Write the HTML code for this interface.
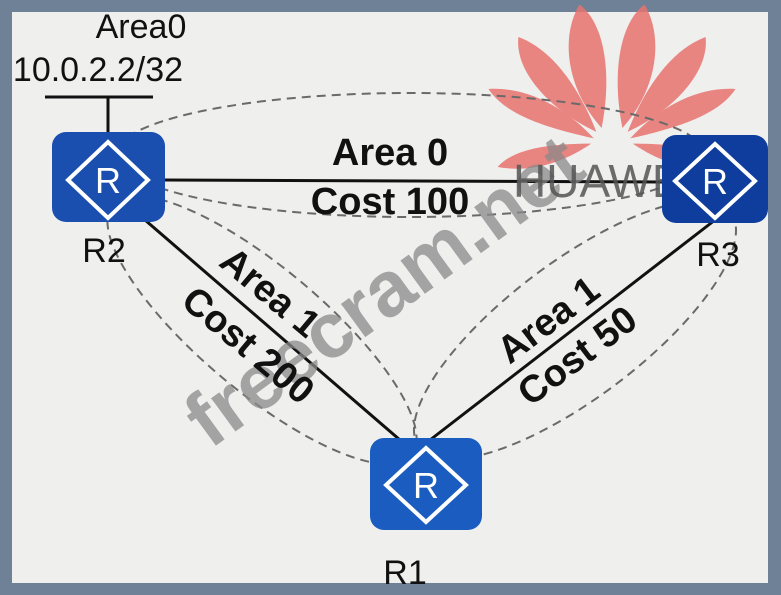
<!DOCTYPE html>
<html><head><meta charset="utf-8"><style>
html,body{margin:0;padding:0;}
body{width:781px;height:595px;background:#6e8196;position:relative;overflow:hidden;font-family:"Liberation Sans",sans-serif;}
</style></head><body>
<svg width="781" height="595" xmlns="http://www.w3.org/2000/svg" style="position:absolute;left:0;top:0">
<rect x="12" y="12" width="756" height="571" fill="#efefee"/>
<!-- Huawei logo -->
<g fill="#e8736f" opacity="0.85" transform="translate(612,128) scale(1.3)">
<path d="M-8,0 C-35,-30 -40,-70 -25,-95 C-5,-80 0,-40 -8,0Z"/>
<path d="M8,0 C35,-30 40,-70 25,-95 C5,-80 0,-40 8,0Z"/>
<path d="M-12,3 C-50,-15 -75,-45 -72,-70 C-45,-60 -25,-30 -12,3Z"/>
<path d="M12,3 C50,-15 75,-45 72,-70 C45,-60 25,-30 12,3Z"/>
<path d="M-14,8 C-50,0 -82,-10 -95,-30 C-65,-32 -35,-15 -14,8Z"/>
<path d="M14,8 C50,0 82,-10 95,-30 C65,-32 35,-15 14,8Z"/>
<path d="M-16,12 C-45,12 -75,15 -88,30 C-60,35 -35,25 -16,12Z"/>
<path d="M16,12 C45,12 75,15 88,30 C60,35 35,25 16,12Z"/>
</g>
<!-- dashed ellipses -->
<g fill="none" stroke="#6a6a6a" stroke-width="2" stroke-dasharray="9,6">
<ellipse cx="410" cy="155" rx="295" ry="62"/>
<ellipse cx="262" cy="330" rx="195" ry="62" transform="rotate(40 262 330)"/>
<ellipse cx="575" cy="330" rx="195" ry="68" transform="rotate(-37 575 330)"/>
</g>
<!-- links -->
<g stroke="#111" stroke-width="3">
<line x1="165" y1="180" x2="662" y2="182"/>
<line x1="145" y1="220" x2="400" y2="440"/>
<line x1="430" y1="440" x2="715" y2="220"/>
<line x1="45" y1="97" x2="153" y2="97"/>
<line x1="108" y1="97" x2="108" y2="132"/>
</g>
<!-- watermarks -->
<text x="0" y="0" transform="translate(210,450) rotate(-36)" font-size="78" font-weight="bold" fill="#8a8a8a" opacity="0.75" font-family="Liberation Sans,sans-serif">freecram.net</text>
<text x="513" y="197" font-size="46" fill="#555" opacity="0.85" font-family="Liberation Sans,sans-serif">HUAWEI</text>
<!-- routers -->
<g>
<rect x="52" y="132" width="113" height="90" rx="14" fill="#1a4fb0"/>
<rect x="662" y="135" width="106" height="88" rx="14" fill="#0e3d9e"/>
<rect x="370" y="438" width="112" height="92" rx="14" fill="#1a5cc0"/>
</g>
<g fill="none" stroke="#fff" stroke-width="4">
<path d="M108,142 L148,180 L108,218 L68,180Z"/>
<path d="M715,144 L755,181 L715,218 L675,181Z"/>
<path d="M426,448 L466,485 L426,522 L386,485Z"/>
</g>
<g fill="#fff" font-size="36" text-anchor="middle">
<text x="108" y="193">R</text>
<text x="715" y="194">R</text>
<text x="426" y="498">R</text>
</g>
<!-- labels -->
<g fill="#111" font-size="34" text-anchor="middle">
<text x="141" y="38">Area0</text>
<text x="98" y="81">10.0.2.2/32</text>
<text x="104" y="262">R2</text>
<text x="718" y="266">R3</text>
<text x="405" y="584">R1</text>
</g>
<g fill="#111" font-size="38" font-weight="bold" text-anchor="middle">
<text x="390" y="165">Area 0</text>
<text x="390" y="214">Cost 100</text>
<text transform="translate(262,302) rotate(40)">Area 1</text>
<text transform="translate(240,355) rotate(40)">Cost 200</text>
<text transform="translate(556,330) rotate(-37)">Area 1</text>
<text transform="translate(585,366) rotate(-37)">Cost 50</text>
</g>
</svg>
</body></html>
